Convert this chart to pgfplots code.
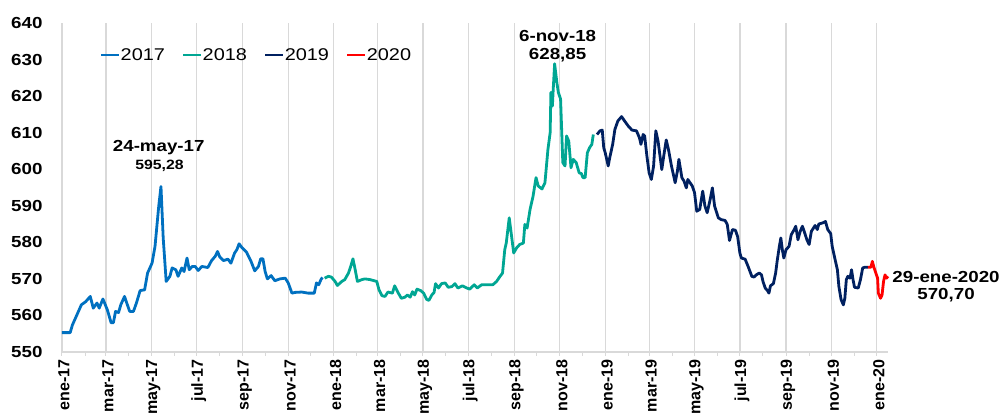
\documentclass[border=0pt]{standalone}
\usepackage{fontspec}
\setmainfont{Liberation Sans}[FakeStretch=1.17]
\newfontfamily\xfont{Liberation Sans}
\usepackage{pgfplots}
\pgfplotsset{compat=1.18}

\definecolor{c17}{RGB}{0,112,192}
\definecolor{c18}{RGB}{0,166,147}
\definecolor{c19}{RGB}{0,32,96}
\definecolor{c20}{RGB}{255,0,0}
\definecolor{gridc}{RGB}{217,217,217}

\newcommand{\tickfont}{\fontsize{16}{18}\selectfont\bfseries}

\begin{document}
\begin{tikzpicture}
\useasboundingbox (-62pt,-68pt) rectangle (943pt,352pt);
\begin{axis}[
    scale only axis,
    width=826pt, height=329pt,
    xmin=0, xmax=1110,
    ymin=550, ymax=640,
    ytick={550,560,...,640},
    xtick={0,59,120,181,243,304,365,424,485,546,608,669,730,789,850,911,973,1034,1095},
    xticklabels={ene-17,mar-17,may-17,jul-17,sep-17,nov-17,ene-18,mar-18,may-18,jul-18,sep-18,nov-18,ene-19,mar-19,may-19,jul-19,sep-19,nov-19,ene-20},
    minor xtick={31,90,151,212,273,334,396,455,516,577,638,699,761,820,881,942,1004,1065},
    axis lines*=left,
    axis line style={gridc, line width=1.2pt},
    xmajorgrids,
    major grid style={gridc, line width=1.2pt},
    tick align=outside,
    major tick length=4pt, minor tick length=4pt,
    xtick style={gridc, line width=1pt},
    minor x tick style={gridc, line width=1pt},
    ytick style={draw=none},
    /pgf/number format/assume math mode=true,
    yticklabel style={font=\tickfont, xshift=-12pt},
    xticklabel style={font=\xfont\fontsize{16}{18}\selectfont\bfseries, rotate=90, anchor=east, yshift=-2pt},
    clip=false,
    legend columns=4,
    legend style={draw=none, fill=none, at={(0.042,0.903)}, anchor=west,
        font=\fontsize{17}{20}\selectfont,
        /tikz/every odd column/.append style={column sep=-2pt},
        /tikz/every even column/.append style={column sep=15pt}},
    legend image code/.code={\draw[#1, line width=2.8pt] (0pt,0pt) -- (18pt,0pt);},
    every axis plot/.append style={line width=2.8pt, line join=round},
]

\addplot[c17, mark=none] table[row sep=\\] {
x y \\
0 555.3 \\ 11 555.3 \\ 14 557.4 \\ 21 560.6 \\ 26 562.9 \\ 32 563.8 \\ 38 565.2 \\
42 562.0 \\ 47 563.4 \\ 50 562.0 \\ 55 564.5 \\ 61 561.5 \\ 66 558.0 \\ 69 558.0 \\
72 561.1 \\ 76 560.8 \\ 79 562.9 \\ 84 565.2 \\ 87 563.4 \\ 91 561.1 \\ 96 561.1 \\
100 563.4 \\ 105 566.8 \\ 111 567.0 \\ 115 571.6 \\ 121 574.3 \\ 125 578.9 \\
130 589.9 \\ 133 595.28 \\ 136 581.2 \\ 140 569.3 \\ 145 570.7 \\ 148 573.0 \\
153 572.5 \\ 156 570.7 \\ 161 573.0 \\ 164 572.0 \\ 168 575.7 \\ 171 572.5 \\
175 573.4 \\ 179 573.4 \\ 183 572.3 \\ 188 573.4 \\ 196 573.1 \\ 201 575.0 \\
206 576.2 \\ 209 577.5 \\ 212 576.0 \\ 217 575.0 \\ 223 575.4 \\ 227 574.3 \\
232 577.1 \\ 235 578.0 \\ 238 579.6 \\ 242 578.5 \\ 248 577.3 \\ 254 574.8 \\
259 572.2 \\ 264 573.4 \\ 267 575.5 \\ 270 575.5 \\ 273 572.0 \\ 276 570.0 \\
281 570.9 \\ 286 569.5 \\ 293 570.0 \\ 300 570.2 \\ 304 568.9 \\ 309 566.1 \\
313 566.3 \\ 322 566.4 \\ 331 566.1 \\ 339 566.1 \\ 342 568.9 \\ 345 568.4 \\
348 569.8 \\ 350 570.4 \\
};
\addlegendentry{2017}

\addplot[c18, mark=none] table[row sep=\\] {
x y \\
353 570.2 \\ 358 570.7 \\ 362 570.5 \\ 367 569.3 \\ 370 568.2 \\ 376 569.3 \\
380 569.8 \\ 385 571.6 \\ 388 573.4 \\ 391 575.5 \\ 394 572.5 \\ 397 569.3 \\
403 569.8 \\ 407 570.0 \\ 414 569.8 \\ 423 569.3 \\ 426 567.0 \\ 430 565.4 \\
434 565.2 \\ 438 566.4 \\ 444 566.1 \\ 447 568.1 \\ 452 566.1 \\ 456 564.7 \\
461 565.0 \\ 464 565.6 \\ 468 565.0 \\ 471 566.5 \\ 474 565.6 \\ 477 567.2 \\
482 566.8 \\ 486 566.1 \\ 490 564.4 \\ 493 564.1 \\ 497 565.6 \\ 500 566.3 \\
502 568.7 \\ 506 567.5 \\ 510 568.7 \\ 515 568.9 \\ 519 567.7 \\ 524 567.9 \\
528 568.7 \\ 532 567.5 \\ 538 568.1 \\ 544 567.5 \\ 548 567.2 \\ 554 568.4 \\
558 567.5 \\ 564 568.4 \\ 570 568.4 \\ 579 568.4 \\ 584 569.3 \\ 588 570.5 \\
592 571.6 \\ 595 578.0 \\ 597 579.8 \\ 601 586.7 \\ 603 583.5 \\ 607 577.1 \\
611 578.5 \\ 615 579.4 \\ 620 579.8 \\ 622 584.9 \\ 625 583.9 \\ 629 589.0 \\
633 592.6 \\ 637 597.7 \\ 640 595.4 \\ 645 594.6 \\ 649 596.3 \\ 653 605.4 \\
656 610.0 \\ 657 621.0 \\ 659 617.3 \\ 660 621.4 \\ 662 628.85 \\ 665 623.7 \\
667 621.0 \\ 670 619.2 \\ 673 601.8 \\ 676 600.9 \\ 678 609.1 \\ 681 607.7 \\
684 600.4 \\ 687 602.7 \\ 691 601.8 \\ 695 599.0 \\ 698 598.8 \\ 700 597.7 \\
703 597.7 \\ 706 604.5 \\ 709 605.9 \\ 712 606.8 \\ 714 609.5 \\
};
\addlegendentry{2018}

\addplot[c19, mark=none] table[row sep=\\] {
x y \\
719 609.5 \\ 723 610.5 \\ 726 610.7 \\ 728 605.9 \\ 730 604.5 \\ 734 600.9 \\
736 603.1 \\ 740 606.8 \\ 743 610.9 \\ 747 613.2 \\ 752 614.4 \\ 756 613.2 \\
761 611.8 \\ 766 610.7 \\ 772 610.5 \\ 776 608.6 \\ 778 606.8 \\ 781 609.5 \\
783 609.1 \\ 786 603.6 \\ 789 599.0 \\ 792 597.2 \\ 795 600.9 \\ 798 610.5 \\
801 607.7 \\ 806 599.9 \\ 809 604.1 \\ 812 608.0 \\ 815 605.4 \\ 819 600.9 \\
824 596.3 \\ 827 599.5 \\ 829 602.7 \\ 833 597.7 \\ 836 596.7 \\ 839 594.9 \\
841 597.2 \\ 844 596.3 \\ 847 595.4 \\ 850 593.6 \\ 853 588.5 \\ 857 589.0 \\
861 594.0 \\ 864 589.9 \\ 867 588.1 \\ 871 591.7 \\ 874 594.9 \\ 877 589.9 \\
882 586.7 \\ 886 586.2 \\ 891 586.0 \\ 894 584.9 \\ 897 580.5 \\ 901 583.5 \\
905 583.3 \\ 908 581.5 \\ 911 577.0 \\ 913 575.7 \\ 918 575.4 \\ 922 573.4 \\
927 570.7 \\ 930 570.5 \\ 933 571.1 \\ 937 571.6 \\ 940 571.1 \\ 942 569.3 \\
945 567.5 \\ 948 566.8 \\ 950 566.1 \\ 952 568.1 \\ 956 568.7 \\ 959 571.6 \\
961 574.8 \\ 964 578.9 \\ 966 581.2 \\ 968 578.0 \\ 970 575.7 \\ 973 578.0 \\
977 578.9 \\ 980 582.1 \\ 984 583.5 \\ 986 584.4 \\ 989 580.7 \\ 992 583.0 \\
995 584.4 \\ 998 582.6 \\ 1001 580.7 \\ 1004 579.4 \\ 1007 583.0 \\ 1012 584.6 \\
1015 583.5 \\ 1017 585.0 \\ 1022 585.3 \\ 1026 585.7 \\ 1029 583.5 \\ 1033 582.4 \\
1035 578.9 \\ 1039 575.2 \\ 1042 572.5 \\ 1044 567.9 \\ 1047 564.3 \\ 1050 562.9 \\
1052 564.7 \\ 1054 569.8 \\ 1056 570.7 \\ 1059 570.2 \\ 1061 572.5 \\ 1063 569.8 \\
1065 567.7 \\ 1070 567.5 \\ 1073 569.8 \\ 1076 573.0 \\ 1079 573.2 \\ 1083 573.2 \\
};
\addlegendentry{2019}

\addplot[c20, mark=none] table[row sep=\\] {
x y \\
1083 573.2 \\ 1087 573.2 \\ 1089 574.8 \\ 1091 573.2 \\ 1093 572.0 \\ 1096 570.2 \\
1097 566.1 \\ 1100 564.7 \\ 1102 565.6 \\ 1104 569.3 \\ 1106 571.1 \\ 1108 570.2 \\
1110 570.7 \\
};
\addlegendentry{2020}

\node[font=\fontsize{16}{18}\selectfont\bfseries] at (axis cs:130,606.0) {24-may-17};
\node[font=\fontsize{13.5}{15}\selectfont\bfseries] at (axis cs:131,601.0) {595,28};
\node[font=\fontsize{16}{18}\selectfont\bfseries] at (axis cs:666,636.5) {6-nov-18};
\node[font=\fontsize{16}{18}\selectfont\bfseries] at (axis cs:666,631.3) {628,85};
\node[font=\fontsize{16}{18}\selectfont\bfseries] at (axis cs:1188,570.6) {29-ene-2020};
\node[font=\fontsize{16}{18}\selectfont\bfseries] at (axis cs:1188,565.6) {570,70};
\end{axis}
\end{tikzpicture}
\end{document}
